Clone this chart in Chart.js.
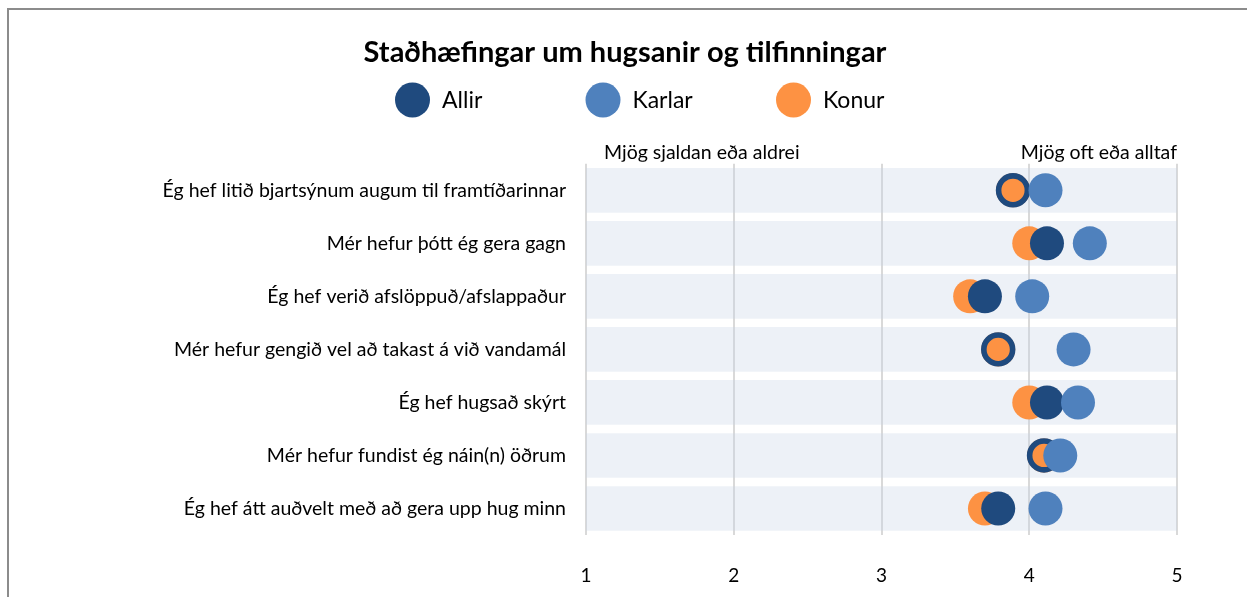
<!DOCTYPE html>
<html>
<head>
<meta charset="utf-8">
<script src="https://cdn.jsdelivr.net/npm/chart.js@4.4.1/dist/chart.umd.min.js"></script>
<style>
  html, body { margin: 0; padding: 0; background: #fff; overflow: hidden; }
  #frame { position: absolute; left: 7px; top: 8px; width: 1400px; height: 800px; border: 2px solid #8c8c8c; }
  #wrap { position: absolute; left: 0; top: 0; width: 1247px; height: 597px; }
</style>
</head>
<body>
<div id="frame"></div>
<div id="wrap"><canvas id="chart" width="1247" height="597"></canvas></div>
<script>
// statements, top to bottom
const categories = [
  'Ég hef litið bjartsýnum augum til framtíðarinnar',
  'Mér hefur þótt ég gera gagn',
  'Ég hef verið afslöppuð/afslappaður',
  'Mér hefur gengið vel að takast á við vandamál',
  'Ég hef hugsað skýrt',
  'Mér hefur fundist ég náin(n) öðrum',
  'Ég hef átt auðvelt með að gera upp hug minn'
];
// mean score per group, 1-5 scale
const allir  = [3.89, 4.12, 3.70, 3.79, 4.12, 4.10, 3.79];
const karlar = [4.11, 4.41, 4.02, 4.30, 4.33, 4.21, 4.11];
const konur  = [3.89, 4.00, 3.60, 3.79, 4.00, 4.10, 3.70];
const seriesNames = ['Allir', 'Karlar', 'Konur'];
const xTicks = [1, 2, 3, 4, 5];
const scaleEnds = ['Mjög sjaldan eða aldrei', 'Mjög oft eða alltaf'];
// grey band behind each row spans the full scale
const bandRange = [1, 5];

const FONT = 'Lato, "Open Sans", sans-serif';
const colors = { Allir: '#1f4a7e', Karlar: '#4f81bd', Konur: '#fd9243' };
Chart.defaults.font.family = FONT;
Chart.defaults.color = '#000';

// where Konur hides under Allir, draw Allir as a ring so both show
const ringRow = allir.map((v, i) => Math.abs(v - konur[i]) < 0.05);

const dotStyle = name => ({
  type: 'line',
  label: name,
  showLine: false,
  pointRadius: 17,
  pointHoverRadius: 17,
  pointBorderWidth: 0,
  pointBackgroundColor: colors[name],
  pointBorderColor: colors[name],
  clip: false
});

const datasets = [
  Object.assign(dotStyle('Karlar'), { data: karlar, order: 1 }),
  Object.assign(dotStyle('Allir'), {
    data: allir, order: 2,
    pointRadius: ringRow.map(r => r ? 14.4 : 17),
    pointBorderWidth: ringRow.map(r => r ? 5.6 : 0),
    pointBackgroundColor: ringRow.map(r => r ? 'rgba(0,0,0,0)' : colors.Allir)
  }),
  Object.assign(dotStyle('Konur'), { data: konur, order: 3 }),
  {
    type: 'bar',
    label: 'band',
    data: categories.map(() => bandRange.slice()),
    backgroundColor: 'rgba(200,212,230,0.32)',
    barThickness: 44,
    order: 4
  }
];

// legend + end-of-scale captions
const decorations = {
  id: 'decorations',
  afterDraw(chart) {
    const ctx = chart.ctx;
    const x = chart.scales.x;
    const top = chart.chartArea.top;

    ctx.save();
    ctx.beginPath();
    ctx.rect(0, 0, chart.width, top - 2);
    ctx.clip();
    ctx.font = '19.5px ' + FONT;
    ctx.fillStyle = '#000';
    ctx.textBaseline = 'alphabetic';
    ctx.textAlign = 'left';
    ctx.fillText(scaleEnds[0], x.getPixelForValue(1) + 18, top - 5);
    ctx.textAlign = 'right';
    ctx.fillText(scaleEnds[1], x.getPixelForValue(5), top - 5);
    ctx.restore();

    // legend in equal-width slots
    ctx.save();
    ctx.font = '23px ' + FONT;
    ctx.textBaseline = 'middle';
    ctx.textAlign = 'left';
    const cy = 100;
    seriesNames.forEach((name, i) => {
      const left = 395 + i * 190.5;
      ctx.fillStyle = colors[name];
      ctx.beginPath();
      ctx.arc(left + 17.5, cy, 17.5, 0, Math.PI * 2);
      ctx.fill();
      ctx.fillStyle = '#000';
      ctx.fillText(name, left + 47, cy + 1);
    });
    ctx.restore();
  }
};

new Chart(document.getElementById('chart'), {
  type: 'bar',
  data: { labels: categories, datasets: datasets },
  plugins: [decorations],
  options: {
    responsive: false,
    animation: false,
    indexAxis: 'y',
    layout: { padding: { left: 73, right: 70, top: 0, bottom: 0 } },
    plugins: {
      legend: { display: false },
      tooltip: { enabled: false },
      title: {
        display: true,
        text: 'Staðhæfingar um hugsanir og tilfinningar',
        font: { size: 29, weight: 'bold', family: FONT },
        color: '#000',
        padding: { top: 35, bottom: 94 }
      }
    },
    scales: {
      x: {
        type: 'linear',
        min: 1,
        max: 5,
        afterBuildTicks: s => { s.ticks = xTicks.map(v => ({ value: v })); },
        afterFit: s => { s.height = 62; },
        grid: { color: '#d9d9d9', lineWidth: 2, drawTicks: false },
        border: { display: false },
        ticks: { padding: 29, font: { size: 19 }, color: '#000' }
      },
      y: {
        type: 'category',
        offset: true,
        afterFit: s => { s.width = 513; },
        grid: { display: false },
        border: { display: false },
        ticks: { padding: 12, font: { size: 19.5 }, color: '#000' }
      }
    }
  }
});
</script>
</body>
</html>
